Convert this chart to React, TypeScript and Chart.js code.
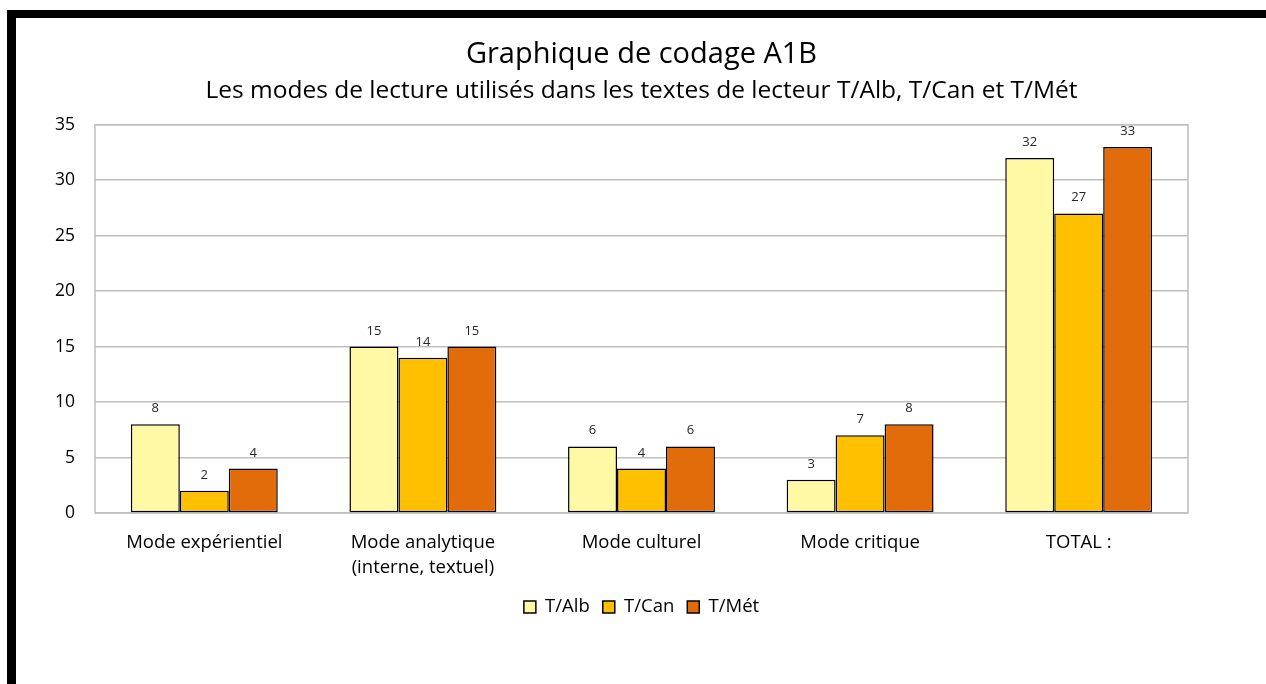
import React, { useEffect, useRef } from "react";
import { Chart, registerables } from "chart.js";

Chart.register(...registerables);

const categories: (string | string[])[] = [
  "Mode expérientiel",
  ["Mode analytique", "(interne, textuel)"],
  "Mode culturel",
  "Mode critique",
  "TOTAL :",
];
const seriesNames = ["T/Alb", "T/Can", "T/Mét"];
const alb = [8, 15, 6, 3, 32];
const can = [2, 14, 4, 7, 27];
const met = [4, 15, 6, 8, 33];
const seriesColors = ["#FFF9A6", "#FFC000", "#E36C0A"];
const yTicks = [0, 5, 10, 15, 20, 25, 30, 35];

const FONT = "'Open Sans', 'Liberation Sans', sans-serif";

const plotBorder = {
  id: "plotBorder",
  beforeDatasetsDraw(chart: any) {
    const { ctx, chartArea } = chart;
    ctx.save();
    ctx.strokeStyle = "#BFBFBF";
    ctx.lineWidth = 1.5;
    ctx.strokeRect(chartArea.left, chartArea.top, chartArea.right - chartArea.left, chartArea.bottom - chartArea.top);
    ctx.restore();
  },
};

const valueLabels = {
  id: "valueLabels",
  afterDatasetsDraw(chart: any) {
    const { ctx } = chart;
    ctx.save();
    ctx.font = `13px ${FONT}`;
    ctx.fillStyle = "#262626";
    ctx.textAlign = "center";
    ctx.textBaseline = "alphabetic";
    chart.data.datasets.forEach((ds: any, i: number) => {
      const meta = chart.getDatasetMeta(i);
      meta.data.forEach((el: any, j: number) => {
        ctx.fillText(String(ds.data[j]), el.x, el.y - 12);
      });
    });
    ctx.restore();
  },
};

export default function App() {
  const ref = useRef<HTMLCanvasElement>(null);
  useEffect(() => {
    if (!ref.current) return;
    const data = [alb, can, met];
    const chart = new Chart(ref.current, {
      type: "bar",
      data: {
        labels: categories,
        datasets: seriesNames.map((name, i) => ({
          label: name,
          data: data[i],
          backgroundColor: seriesColors[i],
          borderColor: "#000000",
          borderWidth: 1.5,
          borderSkipped: false,
          categoryPercentage: 0.672,
          barPercentage: 1.0,
        })),
      },
      options: {
        responsive: false,
        animation: false,
        devicePixelRatio: 1,
        layout: { padding: { left: 55, right: 78, top: 37, bottom: 57.75 } },
        plugins: {
          title: {
            display: true,
            fullSize: false,
            text: "Graphique de codage A1B",
            color: "#000",
            font: { family: FONT, size: 29, weight: "normal" },
            padding: { top: 0, bottom: 4.5 },
          },
          subtitle: {
            display: true,
            fullSize: false,
            text: "Les modes de lecture utilisés dans les textes de lecteur T/Alb, T/Can et T/Mét",
            color: "#000",
            font: { family: FONT, size: 24.5, weight: "normal" },
            padding: { top: 0, bottom: 19 },
          },
          legend: {
            position: "bottom",
            fullSize: false,
            labels: {
              color: "#000",
              font: { family: FONT, size: 18.5 },
              boxWidth: 12,
              boxHeight: 12,
              padding: 13,
            },
          },
          tooltip: { enabled: false },
        },
        scales: {
          x: {
            grid: { display: false, drawTicks: false },
            border: { display: false },
            ticks: {
              color: "#000",
              font: { family: FONT, size: 18.5, lineHeight: 1.35 },
              padding: 17,
              maxRotation: 0,
              autoSkip: false,
            },
            afterFit(scale: any) {
              scale.height = 71.75;
            },
          },
          y: {
            min: 0,
            max: 35,
            afterBuildTicks(scale: any) {
              scale.ticks = yTicks.map((v) => ({ value: v }));
            },
            grid: { color: "#BFBFBF", lineWidth: 1.5, drawTicks: false },
            border: { display: false },
            ticks: {
              color: "#000",
              font: { family: FONT, size: 17.5 },
              padding: 20,
            },
            afterFit(scale: any) {
              scale.width = 40;
            },
          },
        },
      },
      plugins: [plotBorder, valueLabels],
    });
    return () => chart.destroy();
  }, []);
  return (
    <div style={{ position: "fixed", left: 0, top: 0, width: 1266, height: 684, background: "#fff" }}>
      <canvas ref={ref} width={1266} height={684} style={{ position: "absolute", left: 0, top: 0 }} />
      <div style={{ position: "absolute", left: 7, top: 10, width: 1259, height: 8, background: "#000" }} />
      <div style={{ position: "absolute", left: 7, top: 10, width: 9, height: 674, background: "#000" }} />
    </div>
  );
}
